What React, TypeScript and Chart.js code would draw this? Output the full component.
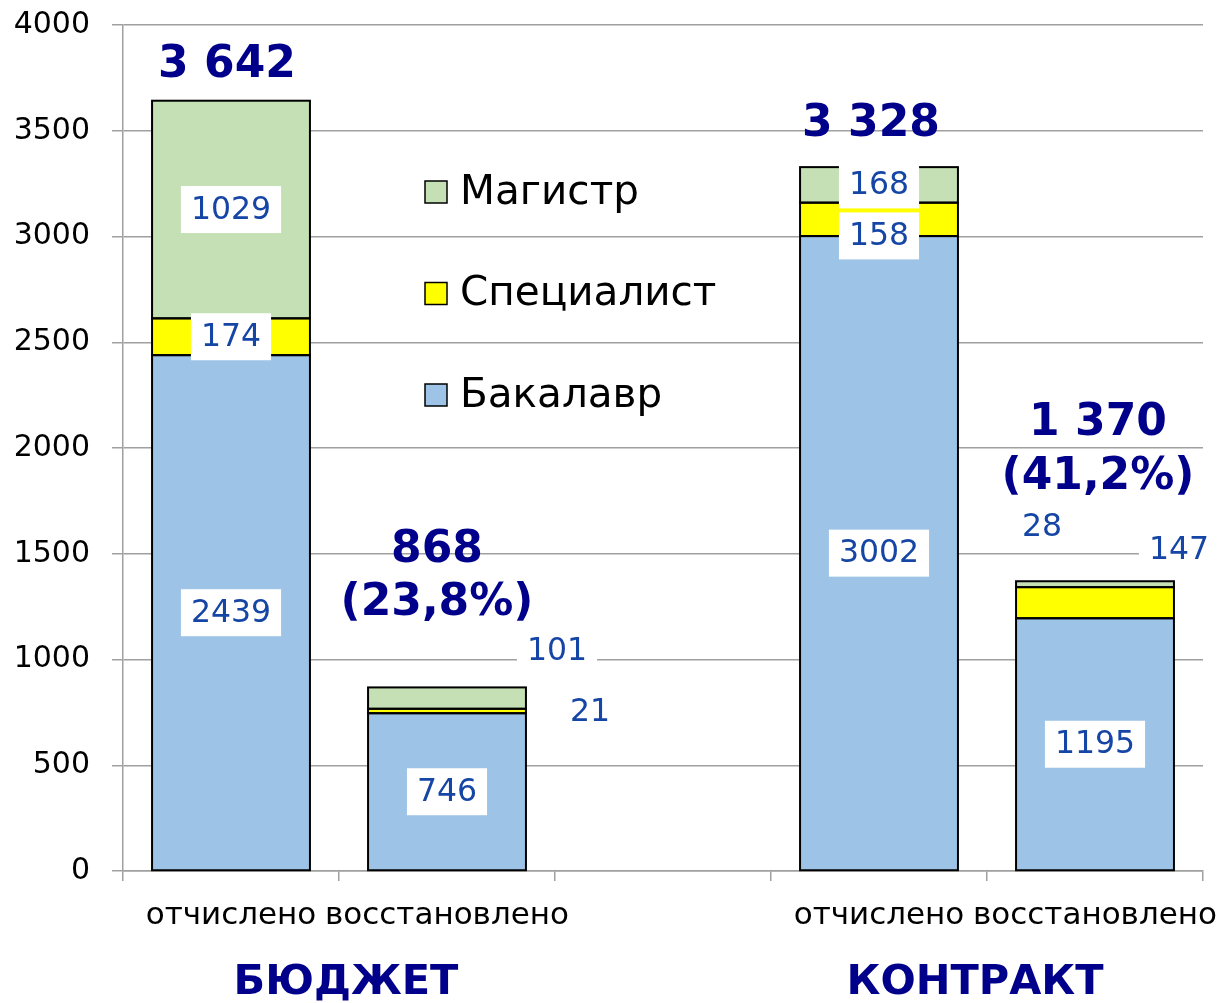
import React, { useEffect, useRef } from "react";
import { Chart, registerables } from "chart.js";

Chart.register(...registerables);

// ---------- data ----------
const categories = ["отчислено", "восстановлено", "", "отчислено", "восстановлено"];
const seriesNames = ["Бакалавр", "Специалист", "Магистр"];
const bakalavr = [2439, 746, null, 3002, 1195];
const specialist = [174, 21, null, 158, 147];
const magistr = [1029, 101, null, 168, 28];
const groupLabels = ["БЮДЖЕТ", "КОНТРАКТ"];
const groupMembers = [
  [0, 1],
  [3, 4],
];
const yMin = 0;
const yMax = 4000;
const yStep = 500;

// ---------- style ----------
const FONT = "'DejaVu Sans', Verdana, sans-serif";
const NAVY = "#00008B";
const LABEL_BLUE = "#1545A5";
const GRID = "#a0a0a0";
const COLORS = ["#9DC3E6", "#FFFF00", "#C5E0B4"];

// label placements (pixel offsets), styling only
const totalLabelPos: Record<number, { dx: number; dy: number[] }> = {
  0: { dx: -4, dy: [-35] },
  1: { dx: -10, dy: [-137, -84] },
  3: { dx: -8, dy: [-43] },
  4: { dx: 3, dy: [-158, -104] },
};
const outsideLabelPos: Record<string, { dx: number; dy: number }> = {
  "2:1": { dx: 110, dy: -47 },
  "1:1": { dx: 143, dy: 1 },
  "2:4": { dx: -53, dy: -57 },
  "1:4": { dx: 84, dy: -53 },
};
const groupLabelDx = [7, -12];

const fmtThousands = (n: number) => String(n).replace(/\B(?=(\d{3})+(?!\d))/g, " ");

const labelsPlugin = {
  id: "customLabels",
  afterDatasetsDraw(chart: any) {
    const ctx = chart.ctx as CanvasRenderingContext2D;
    const ds = chart.data.datasets;
    const n = chart.data.labels.length;
    ctx.save();
    // segment outlines (shared edges → single 2px line)
    ctx.strokeStyle = "#000";
    ctx.lineWidth = 2;
    for (let d = 0; d < ds.length; d++) {
      const meta = chart.getDatasetMeta(d);
      meta.data.forEach((el: any, i: number) => {
        if (ds[d].data[i] == null) return;
        const { x, y, base, width } = el.getProps(["x", "y", "base", "width"], true);
        ctx.strokeRect(x - width / 2, Math.min(y, base), width, Math.abs(base - y));
      });
    }
    ctx.font = `31.5px ${FONT}`;
    ctx.textAlign = "center";
    ctx.textBaseline = "middle";
    const boxH = 47;
    const padX = 10;
    for (let i = 0; i < n; i++) {
      let prevBottom = -Infinity;
      for (let d = ds.length - 1; d >= 0; d--) {
        const v = ds[d].data[i];
        if (v == null) continue;
        const el = chart.getDatasetMeta(d).data[i];
        const cx = el.x;
        let cy = (el.y + el.base) / 2;
        const key = `${d}:${i}`;
        const text = String(v);
        const w = ctx.measureText(text).width + padX * 2;
        let x = cx;
        if (outsideLabelPos[key]) {
          x = cx + outsideLabelPos[key].dx;
          cy = cy + outsideLabelPos[key].dy;
        } else {
          if (cy - boxH / 2 < prevBottom + 4) cy = prevBottom + 4 + boxH / 2;
          prevBottom = cy + boxH / 2;
        }
        ctx.fillStyle = "#ffffff";
        ctx.fillRect(x - w / 2, cy - boxH / 2, w, boxH);
        ctx.fillStyle = LABEL_BLUE;
        ctx.fillText(text, x, cy + 1);
      }
    }
    // totals
    const yScale = chart.scales.y;
    const xScale = chart.scales.x;
    ctx.font = `bold 44px ${FONT}`;
    ctx.fillStyle = NAVY;
    groupMembers.forEach((members) => {
      const totals = members.map((i) =>
        ds.reduce((s: number, dd: any) => s + (dd.data[i] ?? 0), 0)
      );
      members.forEach((i, k) => {
        const total = totals[k];
        const pos = totalLabelPos[i];
        if (!pos) return;
        const x = xScale.getPixelForValue(i) + pos.dx;
        const top = yScale.getPixelForValue(total);
        const lines = [fmtThousands(total)];
        if (k > 0) {
          const pct = ((total / totals[0]) * 100).toFixed(1).replace(".", ",");
          lines.push(`(${pct}%)`);
        }
        lines.forEach((t, li) => ctx.fillText(t, x, top + pos.dy[li]));
      });
    });
    // group labels
    ctx.font = `bold 41.5px ${FONT}`;
    groupMembers.forEach((members, g) => {
      const cx =
        members.reduce((s, i) => s + xScale.getPixelForValue(i), 0) / members.length +
        groupLabelDx[g];
      ctx.fillText(groupLabels[g], cx, 983);
    });
    // legend (reverse order)
    const lx = 425;
    const ly0 = 192;
    const lStep = 101.5;
    ctx.font = `40.5px ${FONT}`;
    ctx.textAlign = "left";
    for (let k = 0; k < ds.length; k++) {
      const d = ds.length - 1 - k;
      const y = ly0 + k * lStep;
      ctx.fillStyle = ds[d].backgroundColor;
      ctx.fillRect(lx, y - 11, 22, 22);
      ctx.strokeStyle = "#000";
      ctx.lineWidth = 1.5;
      ctx.strokeRect(lx, y - 11, 22, 22);
      ctx.fillStyle = "#000";
      ctx.fillText(ds[d].label, lx + 35, y + 1);
    }
    ctx.restore();
  },
};

export default function App() {
  const ref = useRef<HTMLCanvasElement | null>(null);
  useEffect(() => {
    document.body.style.margin = "0";
    const canvas = ref.current;
    if (!canvas) return;
    const seriesData = [bakalavr, specialist, magistr];
    const chart = new Chart(canvas, {
      type: "bar",
      data: {
        labels: categories,
        datasets: seriesNames.map((name, k) => ({
          label: name,
          data: seriesData[k],
          backgroundColor: COLORS[k],
          borderWidth: 0,
          inflateAmount: 0,
          barPercentage: 0.731,
          categoryPercentage: 1,
        })),
      },
      options: {
        responsive: false,
        animation: false,
        devicePixelRatio: 1,
        layout: { padding: { top: 25, right: 18, left: 0, bottom: 0 } },
        plugins: {
          legend: { display: false },
          tooltip: { enabled: false },
        },
        scales: {
          x: {
            stacked: true,
            grid: {
              offset: true,
              drawOnChartArea: false,
              drawTicks: true,
              tickLength: 10,
              color: GRID,
              lineWidth: 1.5,
            },
            border: { color: GRID, width: 1.5 },
            ticks: {
              font: { family: FONT, size: 31 },
              color: "#000",
              maxRotation: 0,
              minRotation: 0,
              autoSkip: false,
              padding: 16,
            },
            afterFit: (s: any) => {
              s.height = 132;
              s.paddingLeft = 0;
              s.paddingRight = 0;
            },
          },
          y: {
            stacked: true,
            min: yMin,
            max: yMax,
            ticks: {
              stepSize: yStep,
              font: { family: FONT, size: 30 },
              color: "#000",
              padding: 22,
              callback: (v: any) => String(v),
            },
            grid: { color: GRID, lineWidth: 1.5, tickLength: 11 },
            border: { color: GRID, width: 1.5 },
            afterFit: (s: any) => {
              s.width = 123;
              s.paddingTop = 0;
              s.paddingBottom = 0;
            },
          },
        },
      },
      plugins: [labelsPlugin],
    } as any);
    return () => chart.destroy();
  }, []);
  return (
    <div style={{ width: 1221, height: 1003, position: "relative", background: "#fff" }}>
      <canvas ref={ref} width={1221} height={1003} style={{ display: "block" }} />
    </div>
  );
}
